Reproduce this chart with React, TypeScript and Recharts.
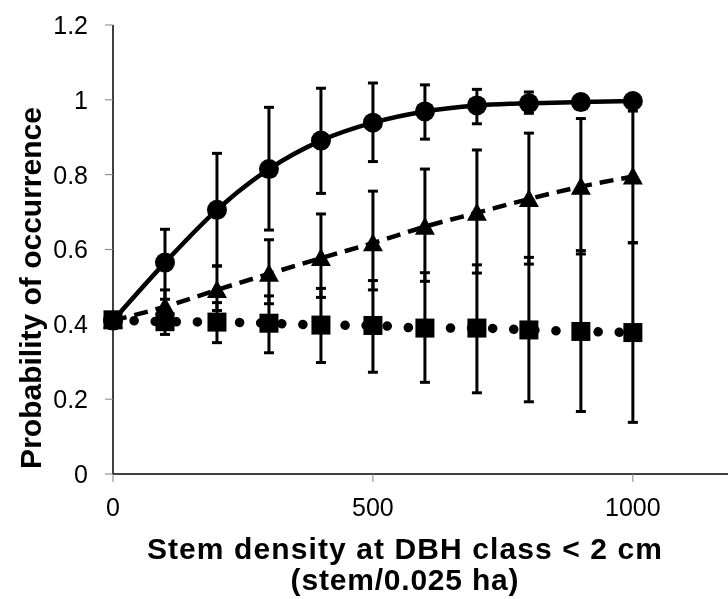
import React from 'react';
import { LineChart, Line, XAxis, YAxis, ErrorBar, Label } from 'recharts';

// stem density classes (stem/0.025 ha)
const stemDensity = [0, 100, 200, 300, 400, 500, 600, 700, 800, 900, 1000];

// circle series (solid line)
const circleProb = [0.41, 0.565, 0.706, 0.815, 0.891, 0.939, 0.969, 0.985, 0.991, 0.994, 0.997];
const circleHigh = [0.43, 0.654, 0.857, 0.98, 1.031, 1.045, 1.04, 1.028, 1.021, 1.01, 1.005];
const circleLow = [0.39, 0.467, 0.556, 0.652, 0.75, 0.835, 0.895, 0.936, 0.964, 0.975, 0.985];

// triangle series (dashed line)
const triangleProb = [0.41, 0.447, 0.492, 0.535, 0.577, 0.617, 0.661, 0.698, 0.735, 0.768, 0.795];
const triangleHigh = [0.43, 0.492, 0.556, 0.626, 0.695, 0.756, 0.815, 0.866, 0.911, 0.95, 0.97];
const triangleLow = [0.39, 0.4, 0.437, 0.455, 0.472, 0.492, 0.515, 0.537, 0.561, 0.588, 0.618];

// square series (dotted line)
const squareProb = [0.412, 0.407, 0.406, 0.403, 0.398, 0.397, 0.39, 0.39, 0.385, 0.381, 0.378];
const squareHigh = [0.43, 0.44, 0.458, 0.476, 0.496, 0.517, 0.538, 0.559, 0.579, 0.597, 0.618];
const squareLow = [0.39, 0.373, 0.351, 0.324, 0.298, 0.272, 0.245, 0.217, 0.193, 0.167, 0.138];

const yTicks = [0, 0.2, 0.4, 0.6, 0.8, 1, 1.2];
const xTicks = [0, 500, 1000];

const rows = stemDensity.map((x, i) => ({
  x,
  circle: circleProb[i],
  circleErr: [circleProb[i] - circleLow[i], circleHigh[i] - circleProb[i]],
  triangle: triangleProb[i],
  triangleErr: [triangleProb[i] - triangleLow[i], triangleHigh[i] - triangleProb[i]],
  square: squareProb[i],
  squareErr: [squareProb[i] - squareLow[i], squareHigh[i] - squareProb[i]],
}));

const FONT = '"Liberation Sans", Arial, sans-serif';

const circleDot = (p: any) => (
  <circle key={`c-${p.index}`} cx={p.cx} cy={p.cy} r={10} fill="#000" stroke="none" />
);

const squareDot = (p: any) => (
  <rect key={`s-${p.index}`} x={p.cx - 9.5} y={p.cy - 9.5} width={19} height={19} fill="#000" stroke="none" />
);

const triangleDot = (p: any) => (
  <polygon
    key={`t-${p.index}`}
    points={`${p.cx},${p.cy - 10} ${p.cx - 10},${p.cy + 8} ${p.cx + 10},${p.cy + 8}`}
    fill="#000"
    stroke="none"
  />
);

export default function App() {
  return (
    <div style={{ position: 'fixed', left: 0, top: 0 }}>
      <LineChart
        width={728}
        height={599}
        data={rows}
        margin={{ top: 25, right: 0, bottom: 0, left: 0 }}
      >
        <XAxis
          dataKey="x"
          type="number"
          domain={[0, 1183]}
          ticks={xTicks}
          height={125}
          tickSize={8}
          tickMargin={16}
          axisLine={{ stroke: '#000', strokeWidth: 1.5 }}
          tickLine={{ stroke: '#808080' }}
          tick={{ fill: '#000', fontSize: 25, fontFamily: FONT }}
        >
          <Label
            content={() => (
              <g>
                <text x={405} y={559} textAnchor="middle" fontFamily={FONT} fontWeight="bold" fontSize={30} letterSpacing={1.1} fill="#000">
                  Stem density at DBH class &lt; 2 cm
                </text>
                <text x={405} y={590} textAnchor="middle" fontFamily={FONT} fontWeight="bold" fontSize={30} letterSpacing={0.8} fill="#000">
                  (stem/0.025 ha)
                </text>
              </g>
            )}
          />
        </XAxis>
        <YAxis
          type="number"
          domain={[0, 1.2]}
          ticks={yTicks}
          width={113}
          tickSize={8}
          tickMargin={17}
          axisLine={{ stroke: '#000', strokeWidth: 1.5 }}
          tickLine={{ stroke: '#808080' }}
          tick={{ fill: '#000', fontSize: 25, fontFamily: FONT }}
        >
          <Label
            content={() => (
              <text
                x={41}
                y={288}
                transform="rotate(-90 41 288)"
                textAnchor="middle"
                fontFamily={FONT}
                fontWeight="bold"
                fontSize={30}
                fill="#000"
              >
                Probability of occurrence
              </text>
            )}
          />
        </YAxis>
        <Line
          dataKey="square"
          type="monotone"
          stroke="#000"
          strokeWidth={9.5}
          strokeLinecap="round"
          strokeDasharray="0.1 21"
          dot={squareDot}
          activeDot={false}
          isAnimationActive={false}
        >
          <ErrorBar dataKey="squareErr" direction="y" width={5} stroke="#000" strokeWidth={3} />
        </Line>
        <Line
          dataKey="triangle"
          type="monotone"
          stroke="#000"
          strokeWidth={4.5}
          strokeDasharray="14 8"
          dot={triangleDot}
          activeDot={false}
          isAnimationActive={false}
        >
          <ErrorBar dataKey="triangleErr" direction="y" width={5} stroke="#000" strokeWidth={3} />
        </Line>
        <Line
          dataKey="circle"
          type="monotone"
          stroke="#000"
          strokeWidth={4.5}
          dot={circleDot}
          activeDot={false}
          isAnimationActive={false}
        >
          <ErrorBar dataKey="circleErr" direction="y" width={5} stroke="#000" strokeWidth={3} />
        </Line>
      </LineChart>
    </div>
  );
}
